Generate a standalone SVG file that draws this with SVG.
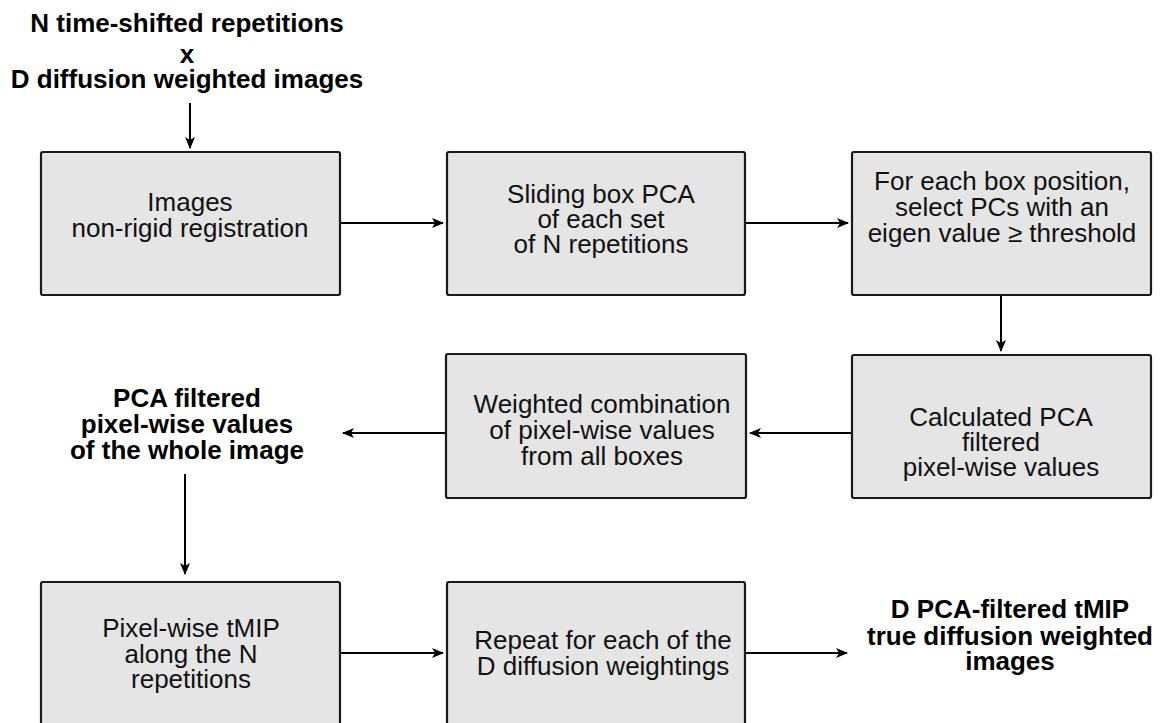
<svg xmlns="http://www.w3.org/2000/svg" width="1162" height="723" viewBox="0 0 1162 723">
<style>
.box{fill:#e5e5e5;stroke:#1a1a1a;stroke-width:2.2}
.t{font-family:"Liberation Sans",Arial,sans-serif;font-size:26px;fill:#111;text-anchor:middle}
.b{font-family:"Liberation Sans",Arial,sans-serif;font-size:26px;font-weight:bold;fill:#000;text-anchor:middle}
.c{stroke:#000;stroke-width:2;fill:none;marker-end:url(#ah)}
</style>
<defs>
<marker id="ah" viewBox="0 0 12 10" refX="11" refY="5" markerWidth="12" markerHeight="10" markerUnits="userSpaceOnUse" orient="auto">
<path d="M0,0 L12,5 L0,10 L3,5 Z" fill="#000"/>
</marker>
</defs>
<rect width="1162" height="723" fill="#fff"/>
<g id="title">
<text class="b" x="187" y="32">N time-shifted repetitions</text>
<text class="b" x="187" y="63">x</text>
<text class="b" x="187" y="88">D diffusion weighted images</text>
</g>
<g id="n1">
<rect class="box" x="41" y="152" width="299" height="143" rx="2"/>
<text class="t" x="190" y="211">Images</text>
<text class="t" x="190" y="237">non-rigid registration</text>
</g>
<g id="n2">
<rect class="box" x="447" y="152" width="298" height="143" rx="2"/>
<text class="t" x="601" y="203">Sliding box PCA</text>
<text class="t" x="601" y="228">of each set</text>
<text class="t" x="601" y="253">of N repetitions</text>
</g>
<g id="n3">
<rect class="box" x="852" y="152" width="299" height="143" rx="2"/>
<text class="t" x="1002" y="190">For each box position,</text>
<text class="t" x="1002" y="216">select PCs with an</text>
<text class="t" x="1002" y="242">eigen value ≥ threshold</text>
</g>
<g id="n4">
<rect class="box" x="852" y="355" width="299" height="143" rx="2"/>
<text class="t" x="1001" y="426">Calculated PCA</text>
<text class="t" x="1001" y="451">filtered</text>
<text class="t" x="1001" y="476">pixel-wise values</text>
</g>
<g id="n5">
<rect class="box" x="446" y="354" width="300" height="144" rx="2"/>
<text class="t" x="602" y="413">Weighted combination</text>
<text class="t" x="602" y="439">of pixel-wise values</text>
<text class="t" x="602" y="465">from all boxes</text>
</g>
<g id="n6">
<text class="b" x="187" y="407">PCA filtered</text>
<text class="b" x="187" y="433">pixel-wise values</text>
<text class="b" x="187" y="459">of the whole image</text>
</g>
<g id="n7">
<rect class="box" x="41" y="582" width="299" height="160" rx="2"/>
<text class="t" x="191" y="637">Pixel-wise tMIP</text>
<text class="t" x="191" y="663">along the N</text>
<text class="t" x="191" y="688">repetitions</text>
</g>
<g id="n8">
<rect class="box" x="447" y="582" width="298" height="160" rx="2"/>
<text class="t" x="603" y="649">Repeat for each of the</text>
<text class="t" x="603" y="675">D diffusion weightings</text>
</g>
<g id="n9">
<text class="b" x="1010" y="618">D PCA-filtered tMIP</text>
<text class="b" x="1010" y="645">true diffusion weighted</text>
<text class="b" x="1010" y="670">images</text>
</g>
<g id="connectors">
<line class="c" x1="190" y1="103" x2="190" y2="148"/>
<line class="c" x1="341" y1="223" x2="443" y2="223"/>
<line class="c" x1="746" y1="223" x2="848" y2="223"/>
<line class="c" x1="1001" y1="296" x2="1001" y2="351"/>
<line class="c" x1="851" y1="433" x2="750" y2="433"/>
<line class="c" x1="445" y1="433" x2="343" y2="433"/>
<line class="c" x1="185" y1="474" x2="185" y2="574"/>
<line class="c" x1="341" y1="653" x2="443" y2="653"/>
<line class="c" x1="746" y1="653" x2="847" y2="653"/>
</g>
</svg>
